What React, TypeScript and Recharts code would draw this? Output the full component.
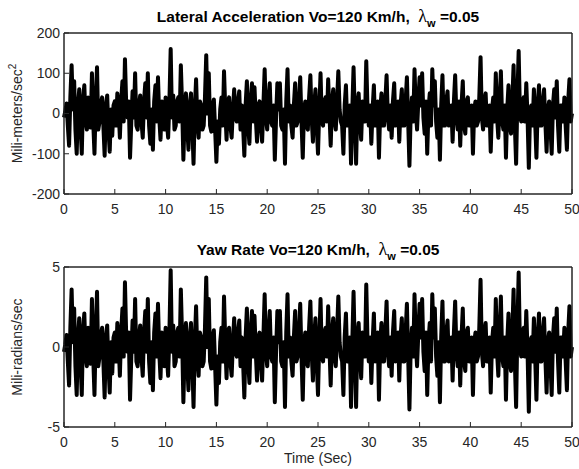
import { Line, LineChart, ReferenceArea, XAxis, YAxis } from "recharts";

// sampled every 0.125 s from 0 to 50 s
const SAMPLE_STEP = 0.125;
const TIME_TICKS = [0, 5, 10, 15, 20, 25, 30, 35, 40, 45, 50];
const LAT_TICKS = [-200, -100, 0, 100, 200];
const YAW_TICKS = [-5, 0, 5];

// lateral acceleration, mm/s^2 (one row = 5 s)
const LAT_ACCEL = [
  -10, 5, 25, -30, -80, 40, 120, 10, 80, -40, -100, 20, 60, -30, -100, 35, 70, -20, -40, 40, 30, -35, 100, -20, -100, 30, 115, -40, -20, 25, 40, -30, -105, 20, 45, -40, -95, 10, -55, 20,
  30, -30, 50, 10, -60, 30, 80, -20, 135, 20, -10, 30, -110, -20, 55, -10, 100, -30, -40, 20, 45, -20, -60, 30, 75, -10, 100, -30, -75, 10, -90, 30, 70, -20, 90, -10, -65, 30, 20, -40,
  40, -20, -60, 30, 160, -10, 45, -40, -30, 30, 40, -20, 120, 20, -115, -10, 50, -30, -90, 20, 50, -30, -125, 10, 85, -20, -60, 30, 20, -40, -30, 40, 145, 0, 100, -30, -45, 20, 35, -40,
  -120, -20, -75, 10, 40, -30, 105, 10, -65, 30, 40, -30, -60, 10, 60, -10, -20, 30, 55, -40, 20, -30, -105, 20, 80, -30, -75, 30, 75, -20, 65, -10, -70, 20, 30, -30, -70, 20, 110, -10,
  -40, 30, 75, -20, -30, 20, -115, -10, 75, 10, 75, -30, -40, 10, -125, 30, 110, -20, 20, -30, -60, 20, 75, -30, -20, 30, 90, -20, -110, 10, 30, -30, -40, 40, 95, -10, -70, 20, 60, -30,
  -100, 10, 100, -20, -30, 30, 40, -20, 85, 0, -80, 30, 60, -20, -40, 30, 105, 10, -20, -30, -100, 20, 70, -30, -30, 20, -125, 10, 115, -10, -125, 20, 50, -20, -65, 30, 20, -20, 130, 10,
  -30, 20, -75, 10, 70, -30, -20, 30, -110, 10, 50, -30, -30, 30, 95, -10, -40, 20, -60, 30, 75, -30, -20, 30, -70, 20, 60, -30, -30, 30, 90, -20, -130, 0, 40, -20, 110, 10, -40, 30,
  90, 20, 100, -10, -50, 30, -100, 10, 50, -30, 110, 20, 80, -20, -60, 10, -115, 20, 95, -30, -30, 30, 55, -30, -20, 20, -70, 30, 95, -10, -40, 30, -80, 20, 80, -30, -50, 30, 40, -30,
  -30, 20, -100, 10, 30, -30, -20, 40, 140, -10, -40, 30, 50, -30, -30, 20, -95, 10, 40, -20, 100, -10, -60, 30, 105, -20, -40, 20, -110, 10, 70, -30, -50, 30, 120, -30, -125, 40, 155, 0,
  -20, 30, 40, -20, 75, -10, -135, 10, 20, -30, 60, -20, -110, 20, 70, -30, -30, 30, 60, -20, -95, 10, 30, -30, -100, 20, 60, -10, 80, -30, -95, 20, 20, -20, 40, -30, -90, 30, 85, -20,
  0,
];

// yaw rate, mrad/s (one row = 5 s)
const YAW_RATE = [
  -0.3, 0.15, 0.75, -0.9, -2.4, 1.2, 3.6, 0.3, 2.4, -1.2, -3, 0.6, 1.8, -0.9, -3, 1.05, 2.1, -0.6, -1.2, 1.2, 0.9, -1.05, 3, -0.6, -3, 0.9, 3.45, -1.2, -0.6, 0.75, 1.2, -0.9, -3.15, 0.6, 1.35, -1.2, -2.85, 0.3, -1.65, 0.6,
  0.9, -0.9, 1.5, 0.3, -1.8, 0.9, 2.4, -0.6, 4.05, 0.6, -0.3, 0.9, -3.3, -0.6, 1.65, -0.3, 3, -0.9, -1.2, 0.6, 1.35, -0.6, -1.8, 0.9, 2.25, -0.3, 3, -0.9, -2.25, 0.3, -2.7, 0.9, 2.1, -0.6, 2.7, -0.3, -1.95, 0.9, 0.6, -1.2,
  1.2, -0.6, -1.8, 0.9, 4.8, -0.3, 1.35, -1.2, -0.9, 0.9, 1.2, -0.6, 3.6, 0.6, -3.45, -0.3, 1.5, -0.9, -2.7, 0.6, 1.5, -0.9, -3.75, 0.3, 2.55, -0.6, -1.8, 0.9, 0.6, -1.2, -0.9, 1.2, 4.35, 0, 3, -0.9, -1.35, 0.6, 1.05, -1.2,
  -3.6, -0.6, -2.25, 0.3, 1.2, -0.9, 3.15, 0.3, -1.95, 0.9, 1.2, -0.9, -1.8, 0.3, 1.8, -0.3, -0.6, 0.9, 1.65, -1.2, 0.6, -0.9, -3.15, 0.6, 2.4, -0.9, -2.25, 0.9, 2.25, -0.6, 1.95, -0.3, -2.1, 0.6, 0.9, -0.9, -2.1, 0.6, 3.3, -0.3,
  -1.2, 0.9, 2.25, -0.6, -0.9, 0.6, -3.45, -0.3, 2.25, 0.3, 2.25, -0.9, -1.2, 0.3, -3.75, 0.9, 3.3, -0.6, 0.6, -0.9, -1.8, 0.6, 2.25, -0.9, -0.6, 0.9, 2.7, -0.6, -3.3, 0.3, 0.9, -0.9, -1.2, 1.2, 2.85, -0.3, -2.1, 0.6, 1.8, -0.9,
  -3, 0.3, 3, -0.6, -0.9, 0.9, 1.2, -0.6, 2.55, 0, -2.4, 0.9, 1.8, -0.6, -1.2, 0.9, 3.15, 0.3, -0.6, -0.9, -3, 0.6, 2.1, -0.9, -0.9, 0.6, -3.75, 0.3, 3.45, -0.3, -3.75, 0.6, 1.5, -0.6, -1.95, 0.9, 0.6, -0.6, 3.9, 0.3,
  -0.9, 0.6, -2.25, 0.3, 2.1, -0.9, -0.6, 0.9, -3.3, 0.3, 1.5, -0.9, -0.9, 0.9, 2.85, -0.3, -1.2, 0.6, -1.8, 0.9, 2.25, -0.9, -0.6, 0.9, -2.1, 0.6, 1.8, -0.9, -0.9, 0.9, 2.7, -0.6, -3.9, 0, 1.2, -0.6, 3.3, 0.3, -1.2, 0.9,
  2.7, 0.6, 3, -0.3, -1.5, 0.9, -3, 0.3, 1.5, -0.9, 3.3, 0.6, 2.4, -0.6, -1.8, 0.3, -3.45, 0.6, 2.85, -0.9, -0.9, 0.9, 1.65, -0.9, -0.6, 0.6, -2.1, 0.9, 2.85, -0.3, -1.2, 0.9, -2.4, 0.6, 2.4, -0.9, -1.5, 0.9, 1.2, -0.9,
  -0.9, 0.6, -3, 0.3, 0.9, -0.9, -0.6, 1.2, 4.2, -0.3, -1.2, 0.9, 1.5, -0.9, -0.9, 0.6, -2.85, 0.3, 1.2, -0.6, 3, -0.3, -1.8, 0.9, 3.15, -0.6, -1.2, 0.6, -3.3, 0.3, 2.1, -0.9, -1.5, 0.9, 3.6, -0.9, -3.75, 1.2, 4.65, 0,
  -0.6, 0.9, 1.2, -0.6, 2.25, -0.3, -4.05, 0.3, 0.6, -0.9, 1.8, -0.6, -3.3, 0.6, 2.1, -0.9, -0.9, 0.9, 1.8, -0.6, -2.85, 0.3, 0.9, -0.9, -3, 0.6, 1.8, -0.3, 2.4, -0.9, -2.85, 0.6, 0.6, -0.6, 1.2, -0.9, -2.7, 0.9, 2.55, -0.6,
  0,
];

const INK = "#262626";
const FONT = "'Liberation Sans', Arial, sans-serif";
const TICK = { fill: INK, fontSize: 14, fontFamily: FONT };

const rows = (values: number[]) => values.map((v, i) => ({ t: i * SAMPLE_STEP, v }));

function YTitle({ viewBox, text, sup }: any) {
  const cx = 22;
  const cy = viewBox ? viewBox.y + viewBox.height / 2 : 113;
  return (
    <text x={cx} y={cy} transform={`rotate(-90 ${cx} ${cy})`} textAnchor="middle" fontSize={14} fill={INK} fontFamily={FONT}>
      {text}
      {sup && <tspan dy={-6} fontSize={10}>{sup}</tspan>}
    </text>
  );
}

function Title({ top, text }: { top: number; text: string }) {
  return (
    <div style={{ position: "absolute", left: 64, top, width: 508, textAlign: "center", whiteSpace: "pre", fontFamily: FONT, fontWeight: 700, fontSize: 15.5, lineHeight: "17px", color: "#000" }}>
      {text}
      <span style={{ fontFamily: "'Liberation Serif', serif", fontWeight: 400, fontSize: 18 }}>λ</span>
      <sub style={{ fontSize: 11, verticalAlign: "-5px" }}>w</sub>
      {" =0.05"}
    </div>
  );
}

function Panel({ data, ticks, domain, height, xHeight, yLabel, sup, xLabel }: any) {
  return (
    <LineChart width={579} height={height} data={data} margin={{ top: 28, right: 2, bottom: 0, left: 0 }}>
      <XAxis
        dataKey="t"
        type="number"
        domain={[0, 50]}
        ticks={TIME_TICKS}
        height={xHeight}
        tickSize={-5}
        tickMargin={15}
        tick={TICK}
        stroke={INK}
        label={xLabel ? {
          content: (p: any) => (
            <text x={p.viewBox.x + p.viewBox.width / 2} y={p.viewBox.y + 36} textAnchor="middle" fontSize={14} fill={INK} fontFamily={FONT}>
              {xLabel}
            </text>
          ),
        } : undefined}
      />
      <XAxis xAxisId="top" orientation="top" dataKey="t" type="number" domain={[0, 50]} ticks={TIME_TICKS} height={5} tickSize={-5} tickLine={{ stroke: INK }} tick={false} stroke={INK} />
      <YAxis
        type="number"
        domain={domain}
        ticks={ticks}
        width={64}
        tickSize={-5}
        tickMargin={9}
        tick={TICK}
        stroke={INK}
        allowDataOverflow
        label={{ content: (p: any) => <YTitle viewBox={p.viewBox} text={yLabel} sup={sup} /> }}
      />
      <YAxis yAxisId="right" orientation="right" type="number" domain={domain} ticks={ticks} width={5} tickSize={-5} tickLine={{ stroke: INK }} tick={false} stroke={INK} allowDataOverflow />
      {/* invisible copy so the box axes on top and right get drawn */}
      <Line xAxisId="top" yAxisId="right" type="linear" dataKey="v" stroke="none" dot={false} activeDot={false} legendType="none" isAnimationActive={false} />
      <ReferenceArea x1={0} x2={50} y1={domain[0]} y2={domain[1]} fill="none" stroke={INK} strokeWidth={1} ifOverflow="visible" />
      <Line type="linear" dataKey="v" stroke="#000" strokeWidth={4} strokeLinejoin="round" dot={false} isAnimationActive={false} />
    </LineChart>
  );
}

export default function App() {
  return (
    <div style={{ position: "absolute", left: 0, top: 0, width: 579, height: 469, background: "#fff" }}>
      <Title top={8} text="Lateral Acceleration Vo=120 Km/h,  " />
      <Panel data={rows(LAT_ACCEL)} ticks={LAT_TICKS} domain={[-200, 200]} height={234} xHeight={40} yLabel="Mili-meters/sec" sup="2" />
      <Title top={241} text="Yaw Rate Vo=120 Km/h,  " />
      <Panel data={rows(YAW_RATE)} ticks={YAW_TICKS} domain={[-5, 5]} height={235} xHeight={42} yLabel="Mili-radians/sec" xLabel="Time (Sec)" />
    </div>
  );
}
